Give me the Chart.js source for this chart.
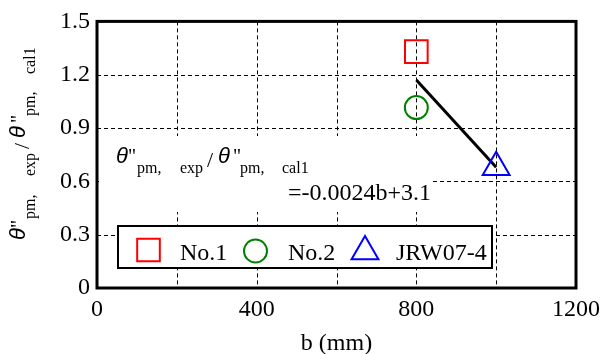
<!DOCTYPE html>
<html>
<head>
  <meta charset="UTF-8">
  <title>theta ratio vs b</title>
  <script src="https://cdn.jsdelivr.net/npm/chart.js"></script>
  <style>
    body { margin: 0; background: #fff; }
    #wrap { width: 608px; height: 354px; }
  </style>
</head>
<body>
  <div id="wrap">
    <canvas id="c" width="608" height="354"></canvas>
  </div>
  <script>
    // data
    const seriesNames = ['No.1', 'No.2', 'JRW07-4'];
    const seriesB = [800, 800, 1000];
    const seriesRatio = [1.33, 1.015, 0.68];
    const seriesColors = ['#ff0000', '#008000', '#0000ff'];
    const seriesStyles = ['rect', 'circle', 'triangle'];
    const seriesRadius = [16, 11.5, 15.5];
    const fitB = [800, 1000];
    const fitRatio = [1.17, 0.68];
    const xLabelled = [0, 400, 800, 1200];
    const fitText = '=-0.0024b+3.1';

    const SERIF = '"Liberation Serif", "Times New Roman", serif';
    const SANS = '"Liberation Sans", Arial, sans-serif';

    // θ''pm, exp / θ''pm, cal1 drawn from a baseline start point
    function drawRatioLabel(ctx, x, y) {
      const parts = [
        [0, 0, 'italic 22px ' + SANS, '\u03b8'],
        [12, 0, '20px ' + SERIF, '"'],
        [21, 10, '16px ' + SERIF, 'pm,'],
        [64, 10, '16px ' + SERIF, 'exp'],
        [91, 4, '22px ' + SERIF, '/'],
        [102, 0, 'italic 22px ' + SANS, '\u03b8'],
        [117, 0, '20px ' + SERIF, '"'],
        [124, 10, '16px ' + SERIF, 'pm,'],
        [166, 10, '16px ' + SERIF, 'cal1']
      ];
      ctx.textAlign = 'left';
      ctx.textBaseline = 'alphabetic';
      ctx.fillStyle = '#000';
      parts.forEach(p => {
        ctx.font = p[2];
        ctx.fillText(p[3], x + p[0], y + p[1]);
      });
    }

    const extras = {
      id: 'extras',
      beforeDatasetsDraw(chart) {
        const ctx = chart.ctx;
        const a = chart.chartArea;
        const xs = chart.scales.x, ys = chart.scales.y;
        ctx.save();

        // dashed grid at every tick
        ctx.strokeStyle = '#000';
        ctx.lineWidth = 1;
        ctx.setLineDash([4, 3]);
        ctx.beginPath();
        xs.ticks.forEach(t => {
          const px = Math.round(xs.getPixelForValue(t.value)) + 0.5;
          if (px <= a.left + 2 || px >= a.right - 2) return;
          ctx.moveTo(px, a.top);
          ctx.lineTo(px, a.bottom);
        });
        ys.ticks.forEach(t => {
          const py = Math.round(ys.getPixelForValue(t.value)) + 0.5;
          if (py <= a.top + 2 || py >= a.bottom - 2) return;
          ctx.moveTo(a.left, py);
          ctx.lineTo(a.right, py);
        });
        ctx.stroke();
        ctx.setLineDash([]);

        // annotation (white box hides the grid under it)
        ctx.fillStyle = '#fff';
        ctx.fillRect(99, 136, 334, 76);
        drawRatioLabel(ctx, 116, 163);
        ctx.font = '24px ' + SERIF;
        ctx.fillStyle = '#000';
        ctx.textBaseline = 'alphabetic';
        ctx.fillText(fitText, 288, 200);

        // legend box
        ctx.fillStyle = '#fff';
        ctx.fillRect(118, 226, 374, 42);
        ctx.lineWidth = 2;
        ctx.strokeStyle = '#000';
        ctx.strokeRect(118, 226, 374, 42);
        const keyX = [148.5, 255.5, 365];
        const keyY = [250, 251, 251.5];
        const txtX = [180, 288, 396];
        seriesNames.forEach((name, i) => {
          ctx.strokeStyle = seriesColors[i];
          ctx.fillStyle = 'rgba(0,0,0,0)';
          Chart.helpers.drawPoint(ctx, {
            pointStyle: seriesStyles[i], radius: seriesRadius[i], borderWidth: 2, rotation: 0
          }, keyX[i], keyY[i]);
          ctx.fillStyle = '#000';
          ctx.font = '24px ' + SERIF;
          ctx.fillText(name, txtX[i], 260);
        });

        // y axis title
        ctx.translate(25, 240);
        ctx.rotate(-Math.PI / 2);
        drawRatioLabel(ctx, 0, 0);
        ctx.restore();
      },
      afterDraw(chart) {
        const ctx = chart.ctx;
        const a = chart.chartArea;
        ctx.save();
        ctx.lineWidth = 3;
        ctx.strokeStyle = '#000';
        ctx.strokeRect(a.left, a.top, a.right - a.left, a.bottom - a.top);
        ctx.font = '24px ' + SERIF;
        ctx.fillStyle = '#000';
        ctx.textAlign = 'center';
        ctx.textBaseline = 'alphabetic';
        ctx.fillText('b (mm)', (a.left + a.right) / 2, 350);
        ctx.restore();
      }
    };

    const datasets = seriesNames.map((name, i) => ({
      label: name,
      data: [{ x: seriesB[i], y: seriesRatio[i] }],
      pointStyle: seriesStyles[i],
      pointRadius: seriesRadius[i],
      pointHoverRadius: seriesRadius[i],
      borderColor: seriesColors[i],
      backgroundColor: 'rgba(0,0,0,0)',
      pointBorderWidth: 2,
      showLine: false
    }));
    datasets.push({
      label: 'fit',
      data: fitB.map((b, i) => ({ x: b, y: fitRatio[i] })),
      showLine: true,
      borderColor: '#000',
      borderWidth: 3,
      pointRadius: 0,
      fill: false
    });

    new Chart(document.getElementById('c'), {
      type: 'scatter',
      data: { datasets },
      options: {
        responsive: false,
        animation: false,
        layout: { padding: { left: 0, right: 32, top: 14, bottom: 0 } },
        plugins: { legend: { display: false }, tooltip: { enabled: false } },
        scales: {
          x: {
            type: 'linear', min: 0, max: 1200,
            border: { display: false },
            grid: { display: false, drawTicks: false, tickLength: 0 },
            ticks: {
              stepSize: 200, padding: 7, color: '#000', maxRotation: 0,
              font: { family: SERIF, size: 24 },
              callback: v => xLabelled.includes(v) ? String(v) : ''
            },
            afterFit: s => { s.height = 66; }
          },
          y: {
            type: 'linear', min: 0, max: 1.5,
            border: { display: false },
            grid: { display: false, drawTicks: false, tickLength: 0 },
            ticks: {
              stepSize: 0.3, padding: 7, color: '#000',
              font: { family: SERIF, size: 24 },
              callback: v => Math.abs(v) < 1e-9 ? '0' : v.toFixed(1)
            },
            afterFit: s => { s.width = 97; }
          }
        }
      },
      plugins: [extras]
    });
  </script>
</body>
</html>
